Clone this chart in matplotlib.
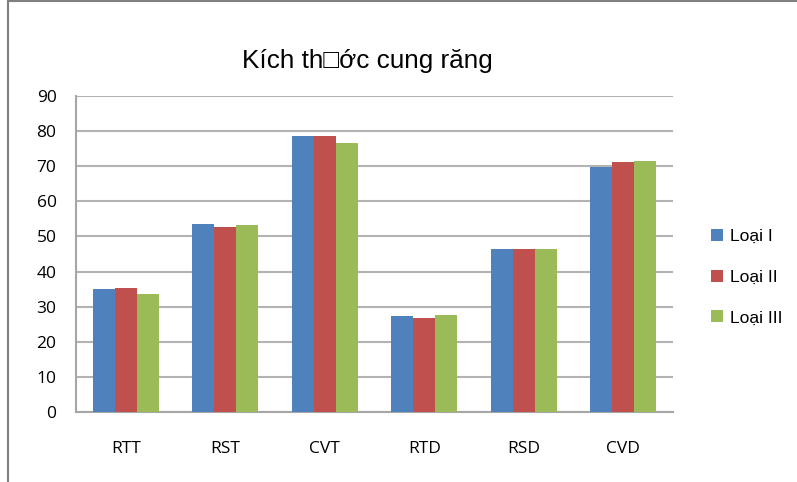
import numpy as np
import matplotlib
matplotlib.use("Agg")
import matplotlib.pyplot as plt
from matplotlib.patches import Rectangle

# data
categories = ["RTT", "RST", "CVT", "RTD", "RSD", "CVD"]
loai1 = [35.0, 53.6, 78.7, 27.3, 46.3, 69.9]
loai2 = [35.2, 52.7, 78.7, 26.9, 46.3, 71.2]
loai3 = [33.6, 53.3, 76.6, 27.5, 46.3, 71.5]
series_names = ["Loại I", "Loại II", "Loại III"]
colors = ["#4F81BD", "#C0504D", "#9BBB59"]

fig = plt.figure(figsize=(7.97, 4.82), dpi=100)
ax = fig.add_axes([0.0954, 0.1452, 0.7490, 0.6556])

x = np.arange(len(categories))
w = 0.22
for i, (vals, name, c) in enumerate(zip([loai1, loai2, loai3], series_names, colors)):
    ax.bar(x + (i - 1) * w, vals, width=w, color=c, label=name, zorder=3)

ax.set_xlim(-0.5, len(categories) - 0.5)
ax.set_ylim(0, 90)
ax.set_yticks(range(0, 91, 10))
ax.set_xticks(x)
ax.set_xticklabels(categories, fontfamily="Open Sans", fontsize=12.5)
for lab in ax.get_yticklabels():
    lab.set_fontfamily("Open Sans")
    lab.set_fontsize(12.5)
ax.tick_params(axis="both", length=0, colors="black")
ax.tick_params(axis="y", pad=14)
ax.tick_params(axis="x", pad=21)
ax.yaxis.grid(True, color="#b3b3b3", linewidth=1.5, zorder=0)
for s in ["top", "right"]:
    ax.spines[s].set_visible(False)
ax.spines["left"].set_color("#a6a6a6")
ax.spines["bottom"].set_color("#a6a6a6")
ax.spines["left"].set_linewidth(1.5)
ax.spines["bottom"].set_linewidth(1.5)

fig.text(0.461, 0.874, "Kích th\u25a1ớc cung răng", ha="center", va="center",
         fontfamily="Liberation Sans", fontsize=18.8)

leg = ax.legend(loc="center left", bbox_to_anchor=(0.872, 0.425), bbox_transform=fig.transFigure,
                frameon=False, prop={"family": "Liberation Sans", "size": 12.6},
                handlelength=0.7, handleheight=0.7, handletextpad=0.4, labelspacing=1.45)

# outer chart frame (partly cropped)
fig.patches.append(Rectangle((0.010, -0.05), 1.5, 1.047, transform=fig.transFigure,
                             fill=False, edgecolor="#808080", linewidth=1.5))

fig.savefig("out.png", dpi=100)
